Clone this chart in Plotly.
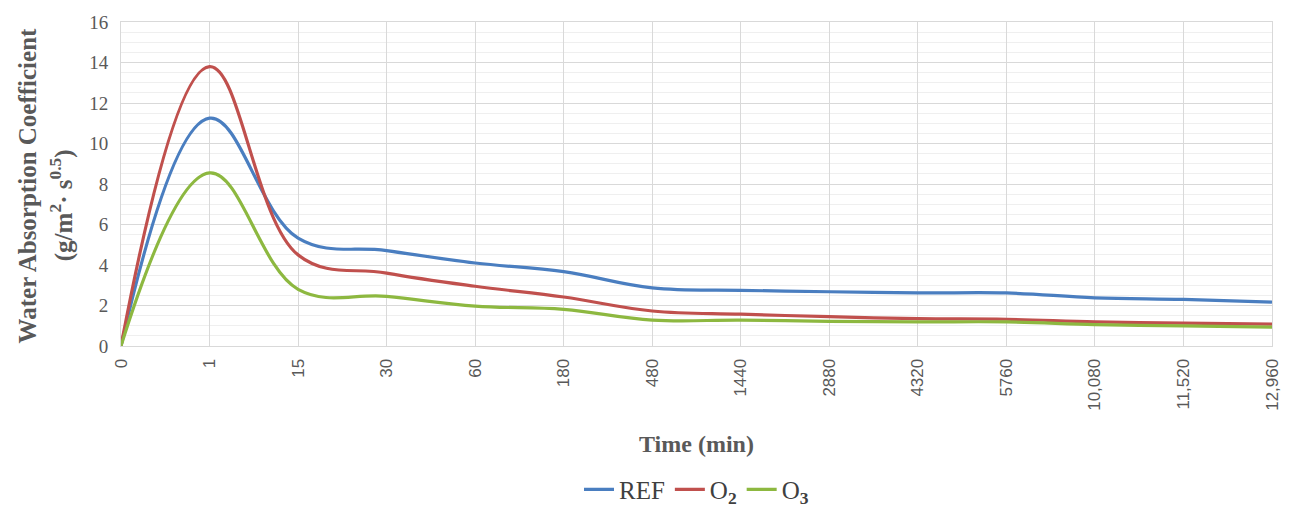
import plotly.graph_objects as go

# Time points (min), drawn as evenly spaced categories
time_labels = ["0", "1", "15", "30", "60", "180", "480", "1440", "2880",
               "4320", "5760", "10,080", "11,520", "12,960"]

# Water absorption coefficient (g/m²·s^0.5)
ref_vals = [0.0, 11.25, 5.33, 4.71, 4.10, 3.67, 2.87, 2.75, 2.68, 2.62, 2.62, 2.38, 2.30, 2.17]
o2_vals = [0.0, 13.80, 4.50, 3.60, 2.95, 2.42, 1.73, 1.57, 1.45, 1.35, 1.32, 1.19, 1.13, 1.08]
o3_vals = [0.0, 8.55, 2.80, 2.45, 1.97, 1.81, 1.28, 1.28, 1.22, 1.19, 1.19, 1.06, 0.99, 0.93]

series = [
    ("REF", ref_vals, "#4A7EC0"),
    ("O<sub><b>2</b></sub>", o2_vals, "#C0504D"),
    ("O<sub><b>3</b></sub>", o3_vals, "#8DB840"),
]

serif = "Liberation Serif"
fig = go.Figure()
for name, vals, color in series:
    fig.add_trace(go.Scatter(
        x=time_labels, y=vals, name=name, mode="lines",
        line=dict(color=color, width=3.2, shape="spline", smoothing=1.1),
    ))

fig.update_layout(
    width=1294, height=524,
    margin=dict(l=121, r=16, t=20, b=177),
    paper_bgcolor="white", plot_bgcolor="white",
    showlegend=True,
    legend=dict(orientation="h", x=0.5, xanchor="center", y=-0.443, yanchor="middle",
                font=dict(family=serif, size=25, color="#404040"),
                itemwidth=30, tracegroupgap=0),
)

fig.update_xaxes(
    type="category", range=[0, len(time_labels) - 1],
    tickangle=-90, tickfont=dict(family="Liberation Sans", size=17, color="#595959"),
    showgrid=True, gridcolor="#d9d9d9", gridwidth=1,
    showline=True, linecolor="#d9d9d9", mirror=True,
    ticks="", ticklabelstandoff=5,
    title=dict(text="<b>Time (min)</b>", font=dict(family=serif, size=24, color="#595959"),
               standoff=25),
)

fig.update_yaxes(
    range=[0, 16], dtick=2, tick0=0,
    tickfont=dict(family=serif, size=19, color="#595959"),
    showgrid=True, gridcolor="#d9d9d9", gridwidth=1,
    minor=dict(dtick=0.5, showgrid=True, gridcolor="#efefef", gridwidth=1),
    showline=True, linecolor="#d9d9d9", mirror=True,
    zeroline=False, ticks="", ticklabelstandoff=8,
)

# Two-line y-axis title
fig.add_annotation(
    text="<b>Water Absorption Coefficient</b>", textangle=-90,
    xref="paper", yref="paper", x=-0.081, y=0.495, xanchor="center", yanchor="middle",
    showarrow=False, font=dict(family=serif, size=25, color="#595959"),
)
fig.add_annotation(
    text="<b>(g/m<sup>2</sup>· s<sup>0.5</sup>)</b>", textangle=-90,
    xref="paper", yref="paper", x=-0.052, y=0.435, xanchor="center", yanchor="middle",
    showarrow=False, font=dict(family=serif, size=25, color="#595959"),
)

fig.write_html("out.html")
